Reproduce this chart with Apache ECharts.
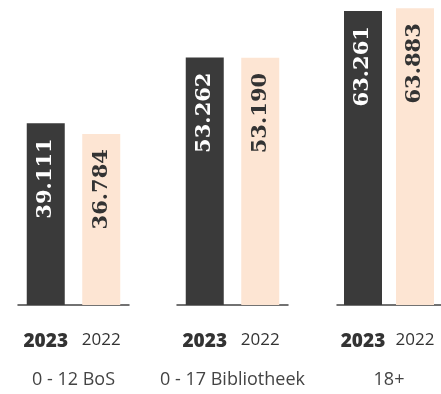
<!DOCTYPE html>
<html>
<head>
<meta charset="utf-8">
<script src="https://cdn.jsdelivr.net/npm/echarts@6/dist/echarts.min.js"></script>
<style>
  html, body { margin: 0; padding: 0; background: #fff; }
  #chart { width: 441px; height: 394px; }
</style>
</head>
<body>
<div id="chart"></div>
<script>
// Visitor counts per age group, this year vs last year
const groups = ['0 - 12 BoS', '0 - 17 Bibliotheek', '18+'];
const years = ['2023', '2022'];
const values2023 = [39.111, 53.262, 63.261];
const values2022 = [36.784, 53.190, 63.883];

const darkColor = '#3a3a3a';
const lightColor = '#fde5d3';
const gridLefts = [18, 177, 337];
const gridWidth = 111;

const fmt = v => v.toFixed(3);

const chart = echarts.init(document.getElementById('chart'));

const grids = [], xAxes = [], yAxes = [], series = [];
groups.forEach((name, i) => {
  grids.push({ left: gridLefts[i], width: gridWidth, top: 3, bottom: 88 });
  xAxes.push({
    type: 'category',
    gridIndex: i,
    data: [
      { value: years[0], textStyle: { fontWeight: 900, fontSize: 19, fontFamily: 'Open Sans' } },
      { value: years[1], textStyle: { fontWeight: 'normal', fontSize: 17, fontFamily: 'Open Sans' } }
    ],
    axisLine: { lineStyle: { color: '#444', width: 1.5 } },
    axisTick: { show: false },
    axisLabel: { color: '#333', margin: 27 },
    name: name,
    nameLocation: 'middle',
    nameGap: 66,
    nameTextStyle: { color: '#444', fontSize: 18, fontFamily: 'Open Sans' }
  });
  yAxes.push({ type: 'value', gridIndex: i, min: 0, max: 65, show: false });
  series.push({
    type: 'bar',
    xAxisIndex: i,
    yAxisIndex: i,
    barWidth: 38,
    data: [
      {
        value: values2023[i],
        itemStyle: { color: darkColor },
        label: { color: '#fff' }
      },
      {
        value: values2022[i],
        itemStyle: { color: lightColor },
        label: { color: '#333' }
      }
    ],
    label: {
      show: true,
      position: 'insideTop',
      distance: 15,
      rotate: 90,
      align: 'right',
      verticalAlign: 'middle',
      fontFamily: 'DejaVu Serif',
      fontWeight: 'bold',
      fontSize: 21,
      formatter: p => fmt(p.value)
    }
  });
});

chart.setOption({
  animation: false,
  grid: grids,
  xAxis: xAxes,
  yAxis: yAxes,
  series: series
});
</script>
</body>
</html>
